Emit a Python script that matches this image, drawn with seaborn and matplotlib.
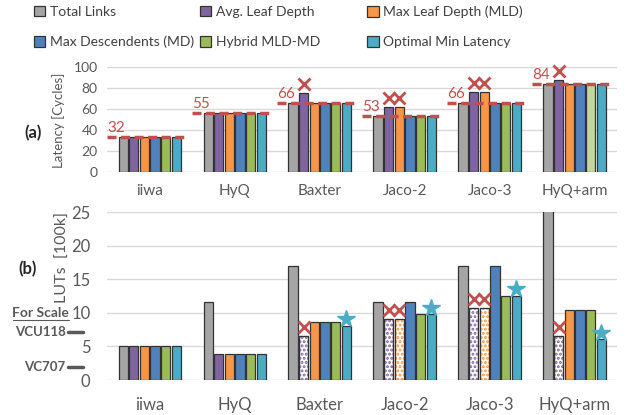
import numpy as np
import pandas as pd
import matplotlib.pyplot as plt
import matplotlib.transforms as mtransforms
from matplotlib.patches import Patch, Rectangle
import seaborn as sns

robots = ["iiwa", "HyQ", "Baxter", "Jaco-2", "Jaco-3", "HyQ+arm"]
methods = ["Total Links", "Avg. Leaf Depth", "Max Leaf Depth (MLD)",
           "Max Descendents (MD)", "Hybrid MLD-MD", "Optimal Min Latency"]
colors = ["#a5a5a5", "#8064a2", "#f79646", "#4f81bd", "#9bbb59", "#4bacc6"]

# (a) latency in cycles
lat_total = [33, 56, 66, 53, 66, 84]
lat_avg = [33, 56, 75, 62, 76, 88]
lat_mld = [33, 56, 66, 62, 76, 84]
lat_md = [33, 56, 66, 53, 66, 84]
lat_hybrid = [33, 56, 66, 53, 66, 84]
lat_opt = [33, 56, 66, 53, 66, 84]
lat_labels = ["32", "55", "66", "53", "66", "84"]

# (b) LUTs in 100k
luts_total = [5, 11.6, 17, 11.6, 17, 27]
luts_avg = [5, 3.9, 6.6, 9.1, 10.8, 6.6]
luts_mld = [5, 3.9, 8.6, 9.1, 10.8, 10.4]
luts_md = [5, 3.9, 8.6, 11.6, 17, 10.4]
luts_hybrid = [5, 3.9, 8.6, 9.8, 12.6, 10.4]
luts_opt = [5, 3.9, 8.05, 9.8, 12.6, 6.05]

# bars that miss timing (X) and best choices (star)
failed = [("Avg. Leaf Depth", "Baxter"), ("Avg. Leaf Depth", "Jaco-2"),
          ("Max Leaf Depth (MLD)", "Jaco-2"), ("Avg. Leaf Depth", "Jaco-3"),
          ("Max Leaf Depth (MLD)", "Jaco-3"), ("Avg. Leaf Depth", "HyQ+arm")]
starred = ["Baxter", "Jaco-2", "Jaco-3", "HyQ+arm"]

boards = ["VCU118", "VC707"]
board_luts = [7.1, 1.9]

red = "#c0504d"
grey = "#595959"

lat = pd.DataFrame(dict(zip(methods, [lat_total, lat_avg, lat_mld, lat_md, lat_hybrid, lat_opt])))
lat["robot"] = robots
lat = lat.melt(id_vars="robot", var_name="method", value_name="value")
luts = pd.DataFrame(dict(zip(methods, [luts_total, luts_avg, luts_mld, luts_md, luts_hybrid, luts_opt])))
luts["robot"] = robots
luts = luts.melt(id_vars="robot", var_name="method", value_name="value")

sns.set_style("white")
plt.rcParams['font.family'] = ['Lato', 'DejaVu Sans']
plt.rcParams['hatch.linewidth'] = 1.4

fig = plt.figure(figsize=(6.31, 4.15), dpi=100)
ax1 = fig.add_axes([0.170, 0.586, 0.808, 0.252])
ax2 = fig.add_axes([0.170, 0.0843, 0.808, 0.404])


def bars(ax, df):
    sns.barplot(data=df, x="robot", y="value", hue="method", order=robots, hue_order=methods,
                palette=colors, saturation=1, width=0.75, gap=0.12, errorbar=None,
                edgecolor="#333333", linewidth=0.9, legend=False, ax=ax)
    ax.set_xlim(-0.5, 5.5)
    ax.set_xlabel("")
    ax.yaxis.grid(True, color="#d9d9d9", lw=1)
    ax.set_axisbelow(True)
    sns.despine(ax=ax, left=True, bottom=True)
    ax.tick_params(length=0, colors=grey)


def bar_of(ax, method, robot):
    return ax.containers[methods.index(method)][robots.index(robot)]


# ---- (a) latency
bars(ax1, lat)
ax1.set_ylim(0, 100)
ax1.set_yticks(range(0, 101, 20))
ax1.tick_params(axis="y", labelsize=10, pad=7)
ax1.tick_params(axis="x", labelsize=11, pad=9)
ax1.set_ylabel("Latency [Cycles]", fontsize=9.5, color=grey)
ax1.yaxis.set_label_coords(-0.082, 0.49)
bar_of(ax1, "Hybrid MLD-MD", "HyQ+arm").set_facecolor("#c3d69b")

for i, r in enumerate(robots):
    v = lat[lat.robot == r].value.min()
    ax1.plot([i - 0.5, i + 0.45], [v, v], color=red, lw=2.5, ls=(0, (2.6, 1.3)), zorder=5, clip_on=False)
    ax1.text(i - 0.5, v + 2, lat_labels[i], color=red, fontsize=11, ha="left", va="bottom")

for m, r in failed:
    p = bar_of(ax1, m, r)
    ax1.plot(p.get_x() + p.get_width() / 2, p.get_height() + 8.5, marker="x", ms=8, mew=2,
             color=red, clip_on=False)

# ---- (b) LUTs
bars(ax2, luts)
ax2.set_ylim(0, 25)
ax2.set_yticks(range(0, 26, 5))
ax2.tick_params(axis="y", labelsize=12, pad=12)
ax2.tick_params(axis="x", labelsize=12, pad=12)
ax2.set_ylabel("LUTs  [100k]", fontsize=11.5, color=grey)
ax2.yaxis.set_label_coords(-0.073, 0.73)

for m, r in failed:
    p = bar_of(ax2, m, r)
    c = colors[methods.index(m)]
    p.set_facecolor("white")
    p.set_edgecolor(c)
    p.set_hatch("....")
    ax2.add_patch(Rectangle((p.get_x(), 0), p.get_width(), p.get_height(), fill=False,
                            ec="#333333", lw=0.9, zorder=p.get_zorder() + 0.1))
    ax2.plot(p.get_x() + p.get_width() / 2, p.get_height() + 1.3, marker="x", ms=8, mew=2,
             color=red)

for r in starred:
    p = bar_of(ax2, "Optimal Min Latency", r)
    ax2.plot(p.get_x() + p.get_width() / 2, p.get_height() + 1.0, marker="*", ms=13,
             color="#4bacc6", mec="#4bacc6")

trans = mtransforms.blended_transform_factory(ax2.transAxes, ax2.transData)
ax2.text(-0.076, 10, "For Scale", transform=trans, ha="right", va="center",
         fontsize=10, fontweight="bold", color=grey)
ax2.plot([-0.184, -0.076], [9.0, 9.0], transform=trans, color=grey, lw=0.8, clip_on=False)
for b, v in zip(boards, board_luts):
    ax2.text(-0.082, v, b, transform=trans, ha="right", va="center",
             fontsize=9.5, fontweight="bold", color=grey)
    ax2.plot([-0.078, -0.047], [v, v], transform=trans, color=grey, lw=2.5, clip_on=False)

fig.text(0.052, 0.680, "(a)", fontsize=12, fontweight="bold", ha="center", va="center")
fig.text(0.044, 0.352, "(b)", fontsize=12, fontweight="bold", ha="center", va="center")

# legend: three columns of equal width
handles = [Patch(facecolor=c, edgecolor="#333333", lw=0.9) for c in colors]
for k, x in enumerate([0.050, 0.313, 0.578]):
    fig.legend(handles=[handles[k], handles[k + 3]], labels=[methods[k], methods[k + 3]],
               loc="upper left", bbox_to_anchor=(x, 0.993), frameon=False, fontsize=10,
               handlelength=0.8, handleheight=0.8, handletextpad=0.35, labelspacing=1.3,
               borderaxespad=0, borderpad=0.2, labelcolor="#404040")

fig.savefig("out.png", dpi=100)
